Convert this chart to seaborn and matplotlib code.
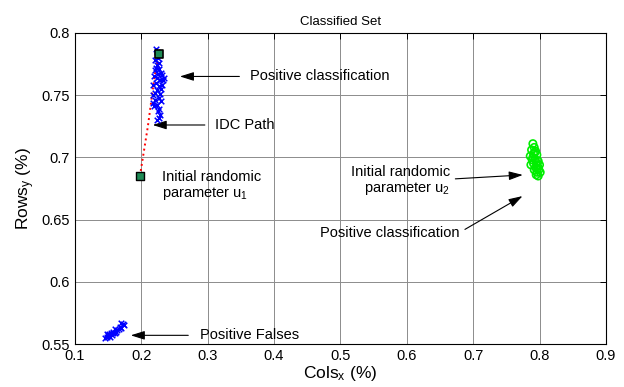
import matplotlib
matplotlib.use("Agg")
import matplotlib.pyplot as plt
import seaborn as sns
import pandas as pd

# --- data ---
top_x = [0.222, 0.224, 0.223, 0.225, 0.221, 0.226, 0.224, 0.222, 0.220, 0.227,
         0.229, 0.225, 0.219, 0.223, 0.231, 0.228, 0.222, 0.218, 0.226, 0.233,
         0.230, 0.224, 0.220, 0.217, 0.228, 0.235, 0.226, 0.221, 0.218, 0.229,
         0.224, 0.219, 0.232, 0.227, 0.225, 0.228, 0.226, 0.224]
top_y = [0.787, 0.785, 0.782, 0.780, 0.778, 0.776, 0.774, 0.772, 0.770, 0.771,
         0.768, 0.767, 0.765, 0.764, 0.766, 0.762, 0.760, 0.758, 0.757, 0.762,
         0.755, 0.754, 0.752, 0.750, 0.751, 0.764, 0.748, 0.746, 0.744, 0.745,
         0.742, 0.741, 0.758, 0.739, 0.737, 0.734, 0.732, 0.730]

false_x = [0.145, 0.148, 0.150, 0.153, 0.152, 0.156, 0.158, 0.157, 0.161, 0.163,
           0.160, 0.166, 0.168, 0.170, 0.172, 0.174, 0.149, 0.155, 0.162, 0.169]
false_y = [0.555, 0.556, 0.557, 0.556, 0.558, 0.557, 0.559, 0.560, 0.559, 0.561,
           0.562, 0.562, 0.564, 0.563, 0.566, 0.565, 0.558, 0.559, 0.560, 0.567]

green_x = [0.790, 0.792, 0.788, 0.794, 0.791, 0.786, 0.796, 0.793, 0.789, 0.798,
           0.795, 0.791, 0.787, 0.797, 0.800, 0.794, 0.792, 0.799, 0.796, 0.801,
           0.790, 0.795, 0.798, 0.793, 0.797]
green_y = [0.711, 0.708, 0.706, 0.705, 0.703, 0.701, 0.702, 0.699, 0.698, 0.697,
           0.696, 0.695, 0.694, 0.693, 0.694, 0.692, 0.690, 0.690, 0.688, 0.688,
           0.700, 0.686, 0.685, 0.704, 0.691]

path_x = [0.198, 0.204, 0.210, 0.215, 0.220, 0.224, 0.227]
path_y = [0.685, 0.705, 0.725, 0.745, 0.765, 0.776, 0.783]

init_x = [0.198]
init_y = [0.685]
final_x = [0.227]
final_y = [0.783]

x_ticks = [0.1, 0.2, 0.3, 0.4, 0.5, 0.6, 0.7, 0.8, 0.9]
y_ticks = [0.55, 0.6, 0.65, 0.7, 0.75, 0.8]
title = "Classified Set"
xlabel = "Cols$_x$ (%)"
ylabel = "Rows$_y$ (%)"

# --- styling ---
sns.set_theme(style="white")
plt.rcParams["font.family"] = ["Liberation Sans", "DejaVu Sans"]
plt.rcParams["mathtext.default"] = "regular"
plt.rcParams["text.color"] = "black"
plt.rcParams["axes.labelcolor"] = "black"

fig = plt.figure(figsize=(6.24, 3.87), dpi=100)
ax = fig.add_axes([0.120, 0.111, 0.851, 0.804])

df_top = pd.DataFrame({"x": top_x, "y": top_y})
df_false = pd.DataFrame({"x": false_x, "y": false_y})
df_green = pd.DataFrame({"x": green_x, "y": green_y})
df_path = pd.DataFrame({"x": path_x, "y": path_y})

sns.lineplot(data=df_path, x="x", y="y", ax=ax, color="red", linestyle=":",
             linewidth=1.4, sort=False, zorder=3)
sns.scatterplot(data=df_top, x="x", y="y", ax=ax, marker="x", color="blue",
                s=16, linewidth=1.1, zorder=4)
sns.scatterplot(data=df_false, x="x", y="y", ax=ax, marker="x", color="blue",
                s=16, linewidth=1.1, zorder=4)
sns.scatterplot(data=df_green, x="x", y="y", ax=ax, marker="o", s=28,
                facecolor="none", edgecolor="#00ee00", linewidth=1.2, zorder=4)
sns.scatterplot(x=init_x, y=init_y, ax=ax, marker="s", s=30,
                color="#1f8a55", edgecolor="black", linewidth=1.0, zorder=5)
sns.scatterplot(x=final_x, y=final_y, ax=ax, marker="s", s=26,
                color="#1f8a55", edgecolor="black", linewidth=1.2, zorder=5)

ax.set_xlim(0.1, 0.9)
ax.set_ylim(0.55, 0.8)
ax.set_xticks(x_ticks)
ax.set_yticks(y_ticks)
ax.set_xticklabels([f"{v:g}" for v in x_ticks])
ax.set_yticklabels([f"{v:g}" for v in y_ticks])
ax.grid(True, color="#8c8c8c", linewidth=0.7, linestyle="-")
ax.tick_params(direction="in", length=4, top=True, right=True,
               labelsize=10.5, colors="black", width=0.7)
for sp in ax.spines.values():
    sp.set_color("black")
    sp.set_linewidth(0.8)

ax.set_title(title, fontsize=9.5, pad=6)
ax.set_xlabel(xlabel, fontsize=12.5, labelpad=1)
ax.set_ylabel(ylabel, fontsize=12.5, labelpad=3)

fs = 10.5
arrow = dict(arrowstyle="-|>,head_length=0.7,head_width=0.22", color="black",
             lw=0.8)

ax.annotate("", xy=(0.254, 0.765), xytext=(0.352, 0.765), arrowprops=arrow)
ax.text(0.364, 0.765, "Positive classification", fontsize=fs, va="center")

ax.annotate("", xy=(0.213, 0.726), xytext=(0.300, 0.726), arrowprops=arrow)
ax.text(0.311, 0.726, "IDC Path", fontsize=fs, va="center")

ax.text(0.231, 0.684, "Initial randomic", fontsize=fs, va="center")
ax.text(0.231, 0.671, "parameter u$_1$", fontsize=fs, va="center")

ax.text(0.666, 0.688, "Initial randomic", fontsize=fs, va="center", ha="right")
ax.text(0.666, 0.675, "parameter u$_2$", fontsize=fs, va="center", ha="right")
ax.annotate("", xy=(0.779, 0.686), xytext=(0.669, 0.6826), arrowprops=arrow)

ax.text(0.679, 0.639, "Positive classification", fontsize=fs, va="center",
        ha="right")
ax.annotate("", xy=(0.778, 0.670), xytext=(0.684, 0.641), arrowprops=arrow)

ax.annotate("", xy=(0.180, 0.557), xytext=(0.275, 0.557), arrowprops=arrow)
ax.text(0.288, 0.557, "Positive Falses", fontsize=fs, va="center")

fig.savefig("out.png", dpi=100)
